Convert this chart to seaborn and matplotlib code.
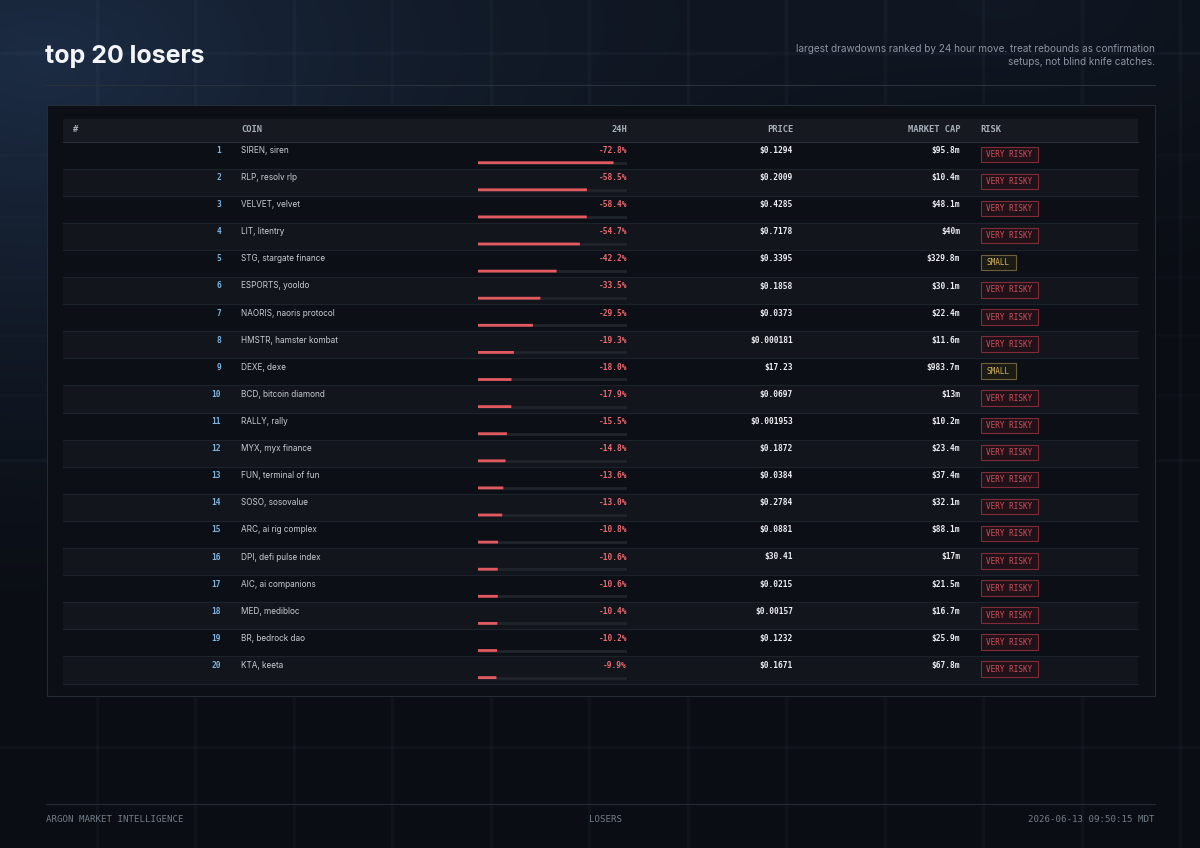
import numpy as np
import pandas as pd
import matplotlib
matplotlib.use('Agg')
import matplotlib.pyplot as plt
import seaborn as sns
from matplotlib.patches import Rectangle


# values
ranks = [1, 2, 3, 4, 5, 6, 7, 8, 9, 10, 11, 12, 13, 14, 15, 16, 17, 18, 19, 20]
coins = ['SIREN, siren', 'RLP, resolv rlp', 'VELVET, velvet', 'LIT, litentry',
         'STG, stargate finance', 'ESPORTS, yooldo', 'NAORIS, naoris protocol',
         'HMSTR, hamster kombat', 'DEXE, dexe', 'BCD, bitcoin diamond', 'RALLY, rally',
         'MYX, myx finance', 'FUN, terminal of fun', 'SOSO, sosovalue', 'ARC, ai rig complex',
         'DPI, defi pulse index', 'AIC, ai companions', 'MED, medibloc', 'BR, bedrock dao',
         'KTA, keeta']
change_24h = [-72.8, -58.5, -58.4, -54.7, -42.2, -33.5, -29.5, -19.3, -18.0, -17.9,
              -15.5, -14.8, -13.6, -13.0, -10.8, -10.6, -10.6, -10.4, -10.2, -9.9]
prices = ['$0.1294', '$0.2009', '$0.4285', '$0.7178', '$0.3395', '$0.1858', '$0.0373',
          '$0.000181', '$17.23', '$0.0697', '$0.001953', '$0.1872', '$0.0384', '$0.2784',
          '$0.0881', '$30.41', '$0.0215', '$0.00157', '$0.1232', '$0.1671']
market_caps = ['$95.8m', '$10.4m', '$48.1m', '$40m', '$329.8m', '$30.1m', '$22.4m', '$11.6m',
               '$983.7m', '$13m', '$10.2m', '$23.4m', '$37.4m', '$32.1m', '$88.1m', '$17m',
               '$21.5m', '$16.7m', '$25.9m', '$67.8m']
risk = ['VERY RISKY', 'VERY RISKY', 'VERY RISKY', 'VERY RISKY', 'SMALL', 'VERY RISKY',
        'VERY RISKY', 'VERY RISKY', 'SMALL', 'VERY RISKY', 'VERY RISKY', 'VERY RISKY',
        'VERY RISKY', 'VERY RISKY', 'VERY RISKY', 'VERY RISKY', 'VERY RISKY', 'VERY RISKY',
        'VERY RISKY', 'VERY RISKY']
bar_max = 80

df = pd.DataFrame({'rank': ranks, 'coin': coins, 'chg': change_24h, 'price': prices,
                   'mcap': market_caps, 'risk': risk})
df['drop'] = df['chg'].abs()

W, H = 1200, 848
MONO = 'DejaVu Sans Mono'
SANS = 'Inter'

fig = plt.figure(figsize=(12, 8.48), dpi=100)
ax = fig.add_axes([0, 0, 1, 1])
ax.set_xlim(0, W)
ax.set_ylim(H, 0)
ax.axis('off')

# background glow, top left
yy, xx = np.mgrid[0:H:2, 0:W:2]
d = np.sqrt(((xx - 40) / 950.0) ** 2 + ((yy - 60) / 600.0) ** 2)
t = np.clip(1 - d, 0, 1) ** 1.5
d2 = np.sqrt(((xx - 1000) / 700.0) ** 2 + ((yy - 0) / 350.0) ** 2)
t2 = np.clip(1 - d2, 0, 1) ** 1.5 * 0.35
base = np.array([10, 13, 19]) / 255.0
glow = np.array([28, 44, 68]) / 255.0
img = base + (glow - base) * np.clip(t + t2, 0, 1)[..., None]
ax.imshow(img, extent=[0, W, H, 0], zorder=0, aspect='auto')

# faint grid
for gx in [97, 195, 294, 392, 491, 589, 688, 786, 885, 983, 1082, 1180]:
    ax.plot([gx, gx], [0, H], color='#8fa6c0', alpha=0.045, lw=2.5, zorder=1)
for gy in [53, 460, 747]:
    ax.plot([0, W], [gy, gy], color='#8fa6c0', alpha=0.045, lw=2.5, zorder=1)
for gy in [155, 217, 277, 335, 395]:
    ax.plot([0, W], [gy, gy], color='#8fa6c0', alpha=0.025, lw=2.0, zorder=1)

# header
ax.text(45, 56, 'top 20 losers', color='#f3f5f8', fontsize=18, fontweight='bold',
        family=SANS, va='center', ha='left', zorder=5)
ax.text(1155, 49, 'largest drawdowns ranked by 24 hour move. treat rebounds as confirmation',
        color='#8b95a2', fontsize=7.2, family=SANS, ha='right', va='center', zorder=5)
ax.text(1155, 62, 'setups, not blind knife catches.', color='#8b95a2', fontsize=7.2,
        family=SANS, ha='right', va='center', zorder=5)
ax.plot([46, 1155], [84.5, 84.5], color='#27303b', lw=0.8, zorder=5)

# panel
ax.add_patch(Rectangle((46.5, 105), 1108, 591, facecolor='#0c1016', edgecolor='#232b35',
                       lw=0.8, zorder=2))
top, row_h = 141.5, 27.1
ax.add_patch(Rectangle((63, 118.5), 1075, 23, facecolor='#161a20', edgecolor='none', zorder=3))
ax.plot([63, 1138], [top, top], color='#2a3038', lw=0.8, zorder=4)

hdr = dict(color='#a7afb9', fontsize=6.3, fontweight='bold', family=MONO, va='center', zorder=5)
ax.text(73, 129, '#', ha='left', **hdr)
ax.text(241, 129, 'COIN', ha='left', **hdr)
ax.text(627, 129, '24H', ha='right', **hdr)
ax.text(793, 129, 'PRICE', ha='right', **hdr)
ax.text(960, 129, 'MARKET CAP', ha='right', **hdr)
ax.text(980, 129, 'RISK', ha='left', **hdr)

badge_style = {
    'VERY RISKY': ('#211219', '#7e2c37', '#d0505c', 57),
    'SMALL': ('#1b1a13', '#6c603b', '#d6b45e', 35),
}

for i, row in df.iterrows():
    y0 = top + i * row_h
    if i % 2 == 1:
        ax.add_patch(Rectangle((63, y0), 1075, row_h, facecolor='#12161c',
                               edgecolor='none', zorder=3))
    ax.plot([63, 1138], [y0 + row_h, y0 + row_h], color='#1d232b', lw=0.8, zorder=4)
    ty = y0 + 9
    ax.text(221, ty, str(row['rank']), color='#7fb2dc', fontsize=5.7, fontweight='bold',
            family=MONO, ha='right', va='center', zorder=5)
    ax.text(241, ty, row['coin'], color='#c6cbd2', fontsize=5.9, family=SANS,
            ha='left', va='center', zorder=5)
    ax.text(627, ty, f"{row['chg']:.1f}%", color='#ec6970', fontsize=5.7, fontweight='bold',
            family=MONO, ha='right', va='center', zorder=5)
    ax.text(793, ty, row['price'], color='#eceef2', fontsize=5.7, fontweight='bold',
            family=MONO, ha='right', va='center', zorder=5)
    ax.text(960, ty, row['mcap'], color='#eceef2', fontsize=5.7, fontweight='bold',
            family=MONO, ha='right', va='center', zorder=5)
    face, edge, tcol, bw = badge_style[row['risk']]
    ax.add_patch(Rectangle((980.5, y0 + 5), bw, 15.5, facecolor=face, edgecolor=edge,
                           lw=0.8, zorder=5))
    ax.text(980.5 + bw / 2, y0 + 13, row['risk'], color=tcol, fontsize=5.5,
            family=MONO, ha='center', va='center', zorder=6)

# inline drawdown bars, scaled 0..80 %
bar_ax = fig.add_axes([478 / W, 1 - (top + 20 * row_h) / H, (627 - 478) / W, 20 * row_h / H])
bar_ax.set_facecolor('none')
for i in range(len(df)):
    bar_ax.axhline(i, color='#20252c', lw=2.0, solid_capstyle='butt', zorder=1)
sns.barplot(data=df, x='drop', y='coin', orient='h', color='#e2595f', saturation=1,
            width=2.8 / row_h, errorbar=None, ax=bar_ax, zorder=2)
for p in bar_ax.patches:
    p.set_snap(False)
    p.set_linewidth(0)
off = 21.2 / row_h
bar_ax.set_xlim(0, bar_max)
bar_ax.set_ylim(20 - off, -off)
bar_ax.axis('off')

# footer
ax.plot([46, 1155], [803.5, 803.5], color='#232a33', lw=0.8, zorder=5)
ft = dict(color='#737c88', fontsize=6.6, family=MONO, va='center', zorder=5)
ax.text(46, 819, 'ARGON MARKET INTELLIGENCE', ha='left', **ft)
ax.text(606, 819, 'LOSERS', ha='center', **ft)
ax.text(1155, 819, '2026-06-13 09:50:15 MDT', ha='right', **ft)

fig.savefig('out.png', dpi=100, facecolor='#0a0d13')
